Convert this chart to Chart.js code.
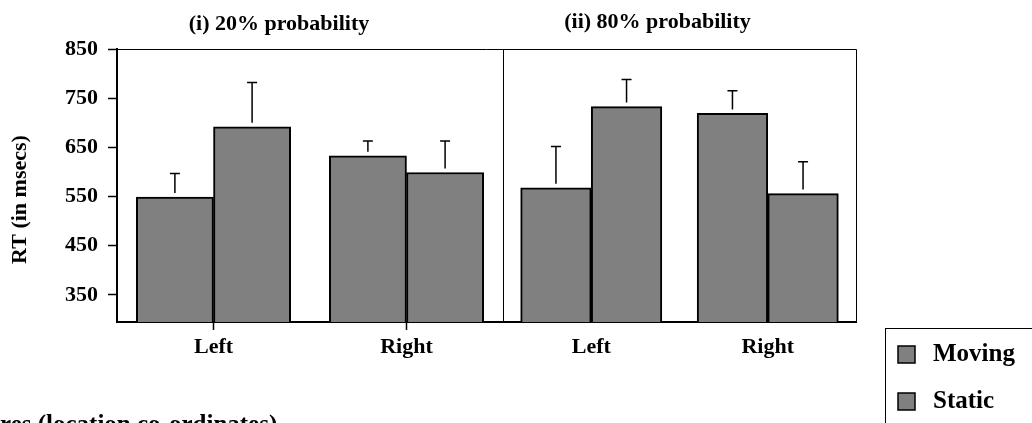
<!DOCTYPE html>
<html>
<head>
<meta charset="utf-8">
<script src="https://cdn.jsdelivr.net/npm/chart.js@4"></script>
<style>
  html, body { margin: 0; padding: 0; background: #fff; }
  #wrap { width: 1032px; height: 423px; position: relative; }
</style>
</head>
<body>
<div id="wrap"><canvas id="grafico_rt"></canvas></div>
<script>
let ctx = document.getElementById('grafico_rt')

Chart.defaults.color = '#000'
Chart.defaults.font.family = "'Liberation Serif', 'Times New Roman', serif"
Chart.defaults.font.weight = 'bold'
Chart.defaults.font.size = 22

// dados
const categories = ['Left', 'Right']
const panelTitles = ['(i) 20% probability', '(ii) 80% probability']
const seriesNames = ['Moving', 'Static']
const yTicks = [350, 450, 550, 650, 750, 850]

const moving20 = [549, 633]
const static20 = [692, 599]
const moving80 = [568, 719]
const static80 = [733, 556]

// barra de erro (só para cima)
const moving20Err = [48, 30]
const static20Err = [90, 64]
const moving80Err = [84, 46]
const static80Err = [55, 65]

const barFill = '#808080'

const errors = [moving20Err, static20Err, moving80Err, static80Err]

// cada categoria ocupa 1 unidade; Moving à esquerda do centro, Static à direita
const groupShift = [-0.2, 0.2]
const toPoints = (values, k) => values.map((v, i) => ({ x: i + groupShift[k], y: v }))

// barras de erro, títulos dos painéis, moldura e legenda
const extras = {
  id: 'extras',
  afterDatasetsDraw(chart) {
    const c = chart.ctx
    const y = chart.scales.y
    c.save()
    c.strokeStyle = '#000'
    c.lineWidth = 1.5
    chart.data.datasets.forEach((ds, i) => {
      const meta = chart.getDatasetMeta(i)
      meta.data.forEach((bar, j) => {
        const top = y.getPixelForValue(ds.data[j].y + errors[i][j])
        c.beginPath()
        c.moveTo(bar.x, bar.y - 4)
        c.lineTo(bar.x, top)
        c.moveTo(bar.x - 5, top)
        c.lineTo(bar.x + 5, top)
        c.stroke()
      })
    })

    // moldura dos painéis
    const a = chart.chartArea
    const x1 = chart.scales.x1
    const x2 = chart.scales.x2
    c.lineWidth = 1
    c.beginPath()
    c.moveTo(a.left, a.top + 0.5)
    c.lineTo(x2.right + 0.5, a.top + 0.5)
    c.lineTo(x2.right + 0.5, a.bottom)
    c.moveTo(x1.right + 0.5, a.top)
    c.lineTo(x1.right + 0.5, a.bottom)
    c.stroke()
    c.restore()
  },
  afterDraw(chart) {
    const c = chart.ctx
    const a = chart.chartArea
    const x1 = chart.scales.x1
    const x2 = chart.scales.x2
    c.save()
    c.fillStyle = '#000'
    c.font = "bold 22px 'Liberation Serif', 'Times New Roman', serif"
    c.textAlign = 'center'
    c.textBaseline = 'middle'
    c.fillText(panelTitles[0], (x1.left + x1.right) / 2 - 31, a.top - 25)
    c.fillText(panelTitles[1], (x2.left + x2.right) / 2 - 22, a.top - 27)

    // título do eixo y
    c.save()
    c.translate(20, (a.top + a.bottom) / 2 + 14)
    c.rotate(-Math.PI / 2)
    c.fillText('RT (in msecs)', 0, 0)
    c.restore()

    // texto cortado embaixo
    c.font = "bold 25px 'Liberation Serif', 'Times New Roman', serif"
    c.textAlign = 'left'
    c.textBaseline = 'alphabetic'
    c.fillText('res (location co-ordinates)', 0, 432)

    // legenda
    const lx = x2.right + 29
    const ly = a.bottom + 6
    c.strokeStyle = '#000'
    c.lineWidth = 1
    c.strokeRect(lx + 0.5, ly + 0.5, 300, 200)
    c.font = "bold 25px 'Liberation Serif', 'Times New Roman', serif"
    seriesNames.forEach((name, k) => {
      const cy = ly + 26 + k * 47
      c.fillStyle = barFill
      c.fillRect(lx + 13, cy - 8, 17, 17)
      c.lineWidth = 1.5
      c.strokeRect(lx + 13, cy - 8, 17, 17)
      c.fillStyle = '#000'
      c.textBaseline = 'middle'
      c.fillText(name, lx + 48, cy + 1)
    })
    c.restore()
  }
}

const barStyle = {
  backgroundColor: barFill,
  borderColor: '#000',
  borderWidth: 2,
  grouped: false,
  categoryPercentage: 1,
  barPercentage: 1
}

const data = {
  datasets: [
    { label: seriesNames[0], data: toPoints(moving20, 0), xAxisID: 'x1', ...barStyle },
    { label: seriesNames[1], data: toPoints(static20, 1), xAxisID: 'x1', ...barStyle },
    { label: seriesNames[0], data: toPoints(moving80, 0), xAxisID: 'x2', ...barStyle },
    { label: seriesNames[1], data: toPoints(static80, 1), xAxisID: 'x2', ...barStyle }
  ]
}

const xAxis = (weight, tickColor) => ({
  type: 'linear',
  min: -0.5,
  max: categories.length - 0.5,
  position: 'bottom',
  stack: 'panels',
  stackWeight: weight,
  offset: false,
  afterBuildTicks(scale) { scale.ticks = categories.map((_, i) => ({ value: i })) },
  grid: {
    offset: false,
    drawOnChartArea: false,
    tickLength: 8,
    tickWidth: 1.5,
    tickColor: tickColor
  },
  border: { color: '#000', width: 2 },
  ticks: {
    padding: 4,
    color: '#000',
    maxRotation: 0,
    callback: (v) => categories[v]
  },
  afterFit(scale) { scale.height = 37 }
})

const config = {
  type: 'bar',
  data,
  plugins: [extras],
  options: {
    responsive: false,
    animation: false,
    layout: { padding: { top: 49, right: 176, bottom: 64, left: 0 } },
    plugins: {
      legend: { display: false },
      tooltip: { enabled: false }
    },
    scales: {
      x1: xAxis(386, '#000'),
      x2: xAxis(353, 'rgba(0,0,0,0)'),
      y: {
        min: 295,
        max: 850,
        afterBuildTicks(scale) { scale.ticks = yTicks.map(v => ({ value: v })) },
        afterFit(scale) { scale.width = 117 },
        grid: {
          drawOnChartArea: false,
          tickLength: 9,
          tickWidth: 1.5,
          tickColor: '#000'
        },
        border: { color: '#000', width: 2 },
        ticks: { padding: 10, color: '#000' }
      }
    }
  }
}

ctx.width = 1032
ctx.height = 423
const graph = new Chart(ctx, config)
</script>
</body>
</html>
